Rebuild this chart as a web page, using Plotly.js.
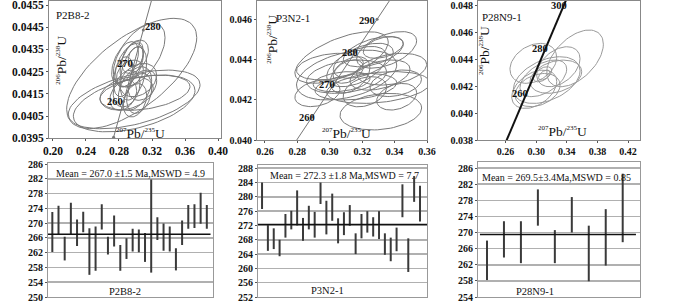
<!DOCTYPE html>
<html><head><meta charset="utf-8">
<script src="https://cdn.plot.ly/plotly-3.0.1.min.js"></script>
<style>html,body{margin:0;padding:0;background:#fff}#chart{width:700px;height:303px}</style>
</head><body><div id="chart"></div>
<script>
// ---------- sample names ----------
const sampleNames = ['P2B8-2', 'P3N2-1', 'P28N9-1'];
const meanAges = [267.0, 272.3, 269.5];
const meanTexts = ['Mean = 267.0 \u00b11.5 Ma,MSWD = 4.9', 'Mean = 272.3 \u00b11.8 Ma,MSWD = 7.7', 'Mean = 269.5\u00b13.4Ma,MSWD = 0.85'];

// ---------- concordia curves (ages and ratios) ----------
const conc1Age = [250, 260, 270, 280, 290];
const conc1X = [0.2735, 0.2855, 0.2975, 0.3095, 0.3216];
const conc1Y = [0.03955, 0.04116, 0.04277, 0.04438, 0.04600];
const conc2Age = [250, 260, 270, 280, 290, 300];
const conc2X = [0.2759, 0.2892, 0.3025, 0.3158, 0.3292, 0.3425];
const conc2Y = [0.03955, 0.04116, 0.04277, 0.04438, 0.04600, 0.04761];
const conc3Age = [240, 250, 260, 270, 280, 290, 300, 310];
const conc3X = [0.2609, 0.2730, 0.2851, 0.2971, 0.3092, 0.3213, 0.3333, 0.3454];
const conc3Y = [0.03793, 0.03955, 0.04116, 0.04277, 0.04438, 0.04600, 0.04761, 0.04923];

// ---------- error ellipses: 207Pb/235U (x), 206Pb/238U (y), half-widths, correlation ----------
const e1X = [0.2954, 0.2984, 0.2984, 0.3115, 0.3045, 0.2873, 0.2923, 0.2973, 0.2852, 0.2994, 0.3034, 0.2893, 0.3045, 0.2933, 0.2994, 0.3085, 0.2852, 0.2994, 0.3004, 0.2954, 0.2893];
const e1Y = [0.04242, 0.04125, 0.04107, 0.04155, 0.04324, 0.04291, 0.04279, 0.04242, 0.04227, 0.04174, 0.04212, 0.04174, 0.04152, 0.04242, 0.04317, 0.04189, 0.04144, 0.04121, 0.04317, 0.04298, 0.04152];
const e1SX = [0.0788, 0.0798, 0.0737, 0.0545, 0.0313, 0.0162, 0.0172, 0.0162, 0.0121, 0.0202, 0.0222, 0.0162, 0.0152, 0.0162, 0.0162, 0.0172, 0.0162, 0.0141, 0.0091, 0.0141, 0.0323];
const e1SY = [0.00248, 0.00132, 0.00128, 0.00079, 0.00143, 0.00094, 0.00098, 0.00120, 0.00090, 0.00098, 0.00075, 0.00083, 0.00090, 0.00060, 0.00075, 0.00068, 0.00068, 0.00075, 0.00045, 0.00087, 0.00075];
const e1R = [0.65, 0.5, 0.45, 0.35, 0.55, 0.5, 0.5, 0.4, 0.3, 0.4, 0.3, 0.3, 0.3, 0.3, 0.4, 0.3, 0.3, 0.3, 0.3, 0.5, 0.3];

const e2X = [0.3073, 0.3104, 0.3104, 0.3161, 0.3300, 0.3315, 0.3351, 0.3269, 0.3207, 0.3166, 0.3382, 0.3310, 0.3125, 0.3407, 0.3073, 0.3217, 0.3413, 0.3114, 0.3330, 0.3001, 0.2924];
const e2Y = [0.04410, 0.04323, 0.04315, 0.04265, 0.04261, 0.04141, 0.04448, 0.04439, 0.04394, 0.04365, 0.04352, 0.04323, 0.04323, 0.04282, 0.04290, 0.04240, 0.04215, 0.04340, 0.04460, 0.04365, 0.04232];
const e2SX = [0.0288, 0.0309, 0.0247, 0.0252, 0.0319, 0.0252, 0.0185, 0.0185, 0.0185, 0.0185, 0.0216, 0.0185, 0.0123, 0.0159, 0.0175, 0.0134, 0.0123, 0.0093, 0.0123, 0.0206, 0.0139];
const e2SY = [0.00128, 0.00124, 0.00083, 0.00066, 0.00079, 0.00091, 0.00091, 0.00075, 0.00087, 0.00100, 0.00079, 0.00075, 0.00091, 0.00066, 0.00050, 0.00075, 0.00066, 0.00058, 0.00054, 0.00066, 0.00066];
const e2R = [0.6, 0.4, 0.3, 0.3, 0.3, 0.2, 0.5, 0.5, 0.5, 0.5, 0.3, 0.4, 0.4, 0.3, 0.3, 0.3, 0.3, 0.4, 0.4, 0.3, 0.3];

const e3X = [0.3507, 0.2962, 0.3137, 0.3289, 0.2974, 0.3017, 0.3082, 0.3105, 0.3256, 0.3093];
const e3Y = [0.04405, 0.04368, 0.04244, 0.04343, 0.04176, 0.04170, 0.04287, 0.04281, 0.04269, 0.04257];
const e3SX = [0.0370, 0.0305, 0.0436, 0.0283, 0.0294, 0.0294, 0.0120, 0.0076, 0.0338, 0.0305];
const e3SY = [0.00210, 0.00148, 0.00173, 0.00148, 0.00142, 0.00123, 0.00056, 0.00037, 0.00123, 0.00136];
const e3R = [0.5, 0.3, 0.4, 0.4, 0.4, 0.3, 0.5, 0.5, 0.3, 0.5];

// ---------- weighted mean plots: 206Pb/238U ages (Ma) and 2-sigma errors ----------
const ages1 = [267.6, 270.8, 263.1, 271.2, 267.4, 270.3, 262.3, 263.1, 271.7, 263.9, 267.9, 260.6, 263.1, 265.4, 265.2, 263.4, 269.2, 268.5, 266.2, 265.7, 260.2, 267.4, 271.7, 271.9, 274.0, 271.7];
const errs1 = [5.4, 3.9, 3.2, 4.3, 3.6, 2.8, 6.3, 6.0, 3.4, 2.4, 4.2, 3.5, 2.8, 3.1, 3.1, 3.9, 12.6, 3.1, 3.7, 3.4, 3.0, 3.3, 3.2, 3.2, 4.2, 3.2];
const ages2 = [280.3, 268.5, 268.3, 265.7, 271.9, 273.5, 276.9, 270.9, 274.2, 272.2, 281.0, 274.2, 277.1, 270.5, 272.5, 274.8, 266.9, 271.8, 273.0, 271.6, 272.1, 266.8, 265.3, 268.1, 278.9, 263.7, 282.2, 278.1];
const errs2 = [3.7, 3.6, 2.9, 2.3, 3.3, 2.6, 4.9, 3.2, 3.3, 3.6, 3.0, 4.7, 3.8, 3.5, 3.2, 2.9, 2.9, 3.4, 3.0, 2.7, 3.9, 3.0, 3.3, 3.3, 4.6, 4.7, 3.6, 5.0];
const ages3 = [263.1, 268.3, 267.6, 276.2, 266.5, 274.4, 264.8, 268.8, 276.1];
const errs3 = [4.9, 4.5, 5.2, 4.5, 4.1, 4.4, 6.9, 7.0, 8.5];

// ---------- helpers ----------
const SERIF = 'Liberation Serif';
function ellipses(cx, cy, sx, sy, r, xa, ya, color) {
  const xs = [], ys = [];
  for (let i = 0; i < cx.length; i++) {
    const q = Math.sqrt(1 - r[i] * r[i]);
    for (let k = 0; k <= 80; k++) {
      const t = 2 * Math.PI * k / 80;
      xs.push(cx[i] + sx[i] * Math.cos(t));
      ys.push(cy[i] + sy[i] * (r[i] * Math.cos(t) + q * Math.sin(t)));
    }
    xs.push(null); ys.push(null);
  }
  return {type: 'scatter', mode: 'lines', x: xs, y: ys, xaxis: xa, yaxis: ya,
    line: {color: color, width: 1}, hoverinfo: 'skip', showlegend: false, connectgaps: false};
}
function concordia(x, y, xa, ya, color, width, msize) {
  return {type: 'scatter', mode: msize ? 'lines+markers' : 'lines', x: x, y: y, xaxis: xa, yaxis: ya,
    line: {color: color, width: width}, marker: {size: msize || 0, color: color},
    hoverinfo: 'skip', showlegend: false, cliponaxis: true};
}
function errbars(ages, errs, xa, ya) {
  return {type: 'scatter', mode: 'markers', x: ages.map((_, i) => i + 1), y: ages, xaxis: xa, yaxis: ya,
    marker: {size: 1, color: 'rgba(0,0,0,0)'},
    error_y: {type: 'data', array: errs, visible: true, thickness: 2, width: 0, color: '#3a3a3a'},
    hoverinfo: 'skip', showlegend: false};
}

const traces = [
  ellipses(e1X, e1Y, e1SX, e1SY, e1R, 'x', 'y', '#7a7a7a'),
  concordia(conc1X, conc1Y, 'x', 'y', '#777', 1, 3),
  ellipses(e2X, e2Y, e2SX, e2SY, e2R, 'x2', 'y2', '#7a7a7a'),
  concordia(conc2X, conc2Y, 'x2', 'y2', '#777', 1, 3),
  ellipses(e3X, e3Y, e3SX, e3SY, e3R, 'x3', 'y3', '#9a9a9a'),
  concordia(conc3X, conc3Y, 'x3', 'y3', '#111', 2, 0),
  errbars(ages1, errs1, 'x4', 'y4'),
  errbars(ages2, errs2, 'x5', 'y5'),
  errbars(ages3, errs3, 'x6', 'y6')
];

const W = 700, H = 303;
const px = v => v / W, py = v => 1 - v / H;
function topAxis(dom, range, tick0, dtick, fmt, size) {
  return {domain: dom, range: range, tick0: tick0, dtick: dtick, tickformat: fmt,
    showline: true, mirror: true, linecolor: '#888', linewidth: 1, ticks: 'outside', ticklen: 2, tickcolor: '#555',
    showgrid: false, zeroline: false, fixedrange: true, ticklabeloverflow: 'allow',
    tickfont: {family: SERIF, size: size, color: '#111', weight: 'bold'}};
}
function barX(dom, range, anchor) {
  return {domain: dom, range: range, anchor: anchor, showline: true, mirror: true, linecolor: '#999', linewidth: 1,
    showticklabels: false, ticks: '', showgrid: false, zeroline: false, fixedrange: true};
}
function barY(dom, range, tick0, anchor) {
  return {domain: dom, range: range, anchor: anchor, tick0: tick0, dtick: 4, showline: true, mirror: true,
    linecolor: '#999', linewidth: 1, ticks: 'outside', ticklen: 2, tickcolor: '#555', ticklabeloverflow: 'allow',
    showgrid: true, gridcolor: '#b0b0b0', gridwidth: 1.5, zeroline: false, fixedrange: true,
    tickfont: {family: SERIF, size: 10, color: '#111', weight: 'bold'}};
}

const BOT = 297;
const layout = {
  width: W, height: H, margin: {l: 0, r: 0, t: 0, b: 0}, paper_bgcolor: '#fff', plot_bgcolor: '#fff',
  showlegend: false, font: {family: SERIF},
  xaxis: Object.assign(topAxis([px(49), px(221)], [0.1952, 0.4036], 0.20, 0.04, '.2f', 11.5), {anchor: 'y'}),
  yaxis: Object.assign(topAxis([py(138.3), py(1)], [0.0395, 0.04568], 0.0395, 0.001, '.4f', 11.5), {anchor: 'x'}),
  xaxis2: Object.assign(topAxis([px(257), px(427)], [0.2551, 0.36], 0.26, 0.02, '.2f', 10), {anchor: 'y2'}),
  yaxis2: Object.assign(topAxis([py(140), py(1)], [0.040, 0.04691], 0.040, 0.002, '.3f', 10), {anchor: 'x2'}),
  xaxis3: Object.assign(topAxis([px(478), px(640)], [0.2239, 0.4356], 0.22, 0.04, '.2f', 10), {anchor: 'y3'}),
  yaxis3: Object.assign(topAxis([py(140), py(1)], [0.038, 0.0483], 0.038, 0.002, '.3f', 10), {anchor: 'x3'}),
  xaxis4: barX([px(48), px(213)], [0.3, 27], 'y4'),
  yaxis4: barY([py(BOT), py(163.3)], [250, 286.2], 250, 'x4'),
  xaxis5: barX([px(258), px(427)], [0.31, 29.2], 'y5'),
  yaxis5: barY([py(BOT), py(165)], [252, 288.9], 252, 'x5'),
  xaxis6: barX([px(478), px(640)], [0.47, 10.02], 'y6'),
  yaxis6: barY([py(BOT), py(162)], [254, 287.5], 254, 'x6'),
  shapes: [
    {type: 'line', xref: 'x4 domain', yref: 'y4', x0: 0, x1: 0.985, y0: meanAges[0], y1: meanAges[0], line: {color: '#111', width: 1.5}},
    {type: 'line', xref: 'x5 domain', yref: 'y5', x0: 0, x1: 1, y0: meanAges[1], y1: meanAges[1], line: {color: '#111', width: 1.5}},
    {type: 'line', xref: 'x6 domain', yref: 'y6', x0: 0.012, x1: 0.975, y0: meanAges[2], y1: meanAges[2], line: {color: '#111', width: 1.5}}
  ],
  annotations: []
};

function ann(text, x, y, size, opts) {
  layout.annotations.push(Object.assign({text: text, xref: 'paper', yref: 'paper', x: px(x), y: py(y),
    xanchor: 'center', yanchor: 'middle', showarrow: false,
    font: {family: SERIF, size: size, color: '#111'}}, opts || {}));
}
const sp = s => '<sup><span style="font-size:7px">' + s + '</span></sup>';
const yTitle = sp('206') + 'Pb/' + sp('238') + 'U';
const xTitle = sp('207') + 'Pb/' + sp('235') + 'U';
// top panels
ann(sampleNames[0], 73, 15, 11);
ann(sampleNames[1], 292.5, 18.3, 11);
ann(sampleNames[2], 502, 17, 11);
ann(yTitle, 61.7, 60, 13.5, {textangle: -90});
ann(yTitle, 271.7, 39, 13.5, {textangle: -90});
ann(yTitle, 484, 51, 13.5, {textangle: -90});
ann(xTitle, 140.7, 133, 13.5);
ann(xTitle, 346.7, 133, 13.5);
ann(xTitle, 562.3, 131.5, 13.5);
// concordia age labels
const bold = {font: {family: SERIF, size: 10.5, color: '#111', weight: 'bold'}};
ann(String(conc1Age[3]), 152.7, 26.7, 10.5, bold);
ann(String(conc1Age[2]), 125, 63.3, 10.5, bold);
ann(String(conc1Age[1]), 115, 101.7, 10.5, bold);
ann(String(conc2Age[4]), 366.7, 20, 10.5, bold);
ann(String(conc2Age[3]), 350, 52.7, 10.5, bold);
ann(String(conc2Age[2]), 327.3, 85, 10.5, bold);
ann(String(conc2Age[1]), 306.7, 117.3, 10.5, bold);
ann(String(conc3Age[6]), 559, 5.5, 10.5, bold);
ann(String(conc3Age[4]), 540, 48.3, 10.5, bold);
ann(String(conc3Age[2]), 520, 93.3, 10.5, bold);
// bottom panels
ann(meanTexts[0], 130, 173, 10);
ann(meanTexts[1], 344, 175, 10);
ann(meanTexts[2], 556, 177, 10);
ann(sampleNames[0], 125, 291, 10.5);
ann(sampleNames[1], 327, 290, 10.5);
ann(sampleNames[2], 535, 291, 10.5);

Plotly.newPlot('chart', traces, layout, {displayModeBar: false, staticPlot: true});
</script></body></html>
